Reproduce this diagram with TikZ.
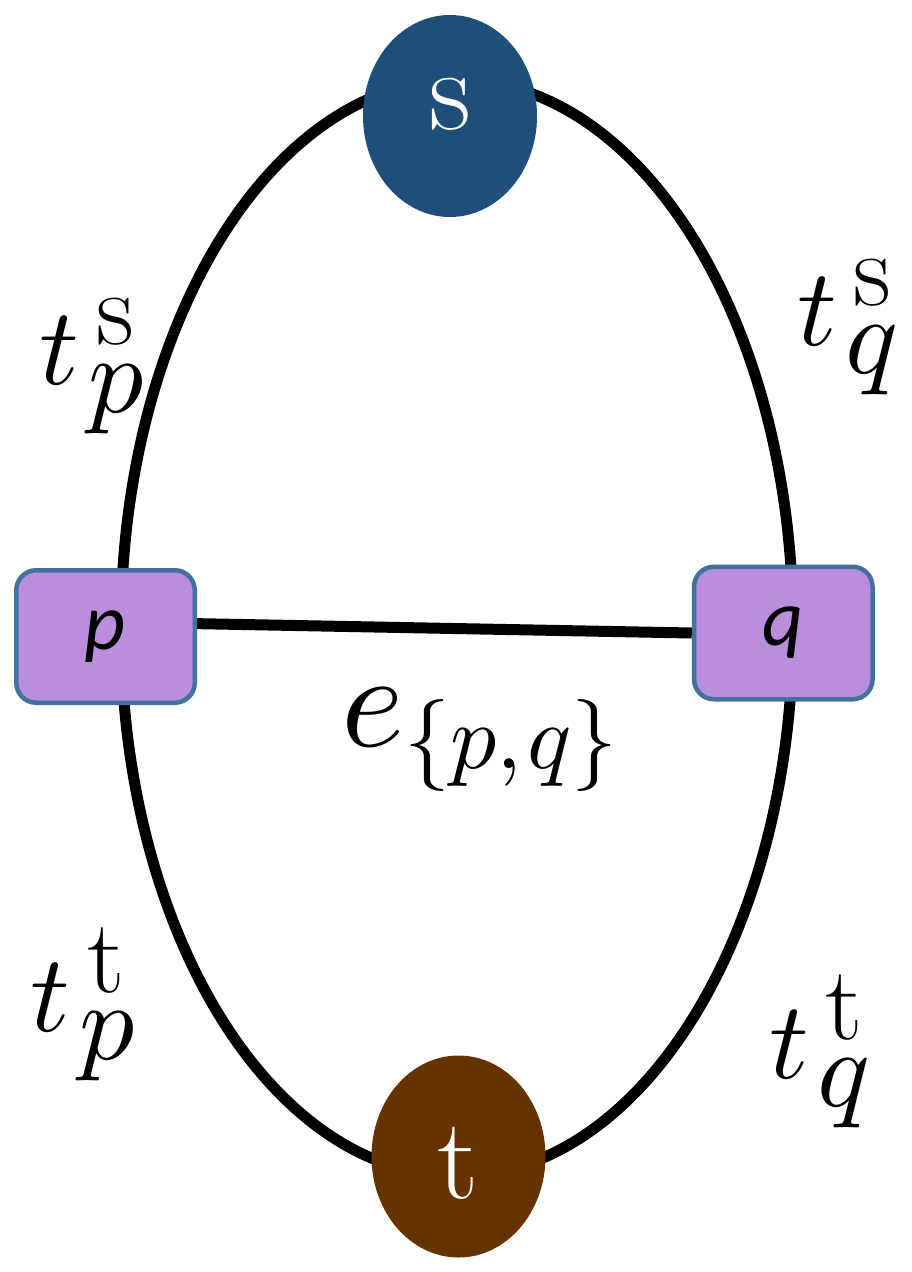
\documentclass[tikz,border=0pt]{standalone}
\usepackage{fontspec}
\newfontfamily\carlito{Carlito}
\DeclareFontShape{OML}{cmm}{m}{it}{<->cmmi10}{}
\DeclareFontShape{OMS}{cmsy}{m}{n}{<->cmsy10}{}
\DeclareFontShape{OT1}{cmr}{m}{n}{<->cmr10}{}
\DeclareFontShape{OMX}{cmex}{m}{n}{<->cmex10}{}
\usetikzlibrary{shapes.geometric}
\pgfdeclarelayer{bg}
\pgfsetlayers{bg,main}
\definecolor{sblue}{HTML}{1F4E79}
\definecolor{tbrown}{HTML}{663300}
\definecolor{vfill}{HTML}{B98EDB}
\definecolor{vborder}{HTML}{41719C}
\newcommand{\up}[1]{\mbox{\rmfamily\fontsize{105}{105}\selectfont #1}}
\begin{document}
\begin{tikzpicture}[x=1pt,y=-1pt,
  term/.style={ellipse,minimum width=174pt,minimum height=202pt,inner sep=0pt,
    text=white,font=\rmfamily\fontsize{116}{116}\selectfont},
  pix/.style={rectangle,rounded corners=20pt,draw=vborder,line width=4.5pt,fill=vfill,
    minimum width=178.5pt,minimum height=132.5pt,inner sep=0pt,
    font=\carlito\itshape\fontsize{80}{80}\selectfont},
  edgeline/.style={line width=11pt,draw=black},
  lbl/.style={inner sep=0pt,font=\rmfamily\fontsize{110}{110}\selectfont}]
\useasboundingbox (0,0) rectangle (911,1272);

\node[term,fill=sblue,text height=50pt,text depth=24pt] (s) at (450,116) {s};
\node[term,fill=tbrown,text height=84pt,text depth=0pt] (t) at (458.5,1156.5) {t};
\node[pix] (p) at (105.5,636.5) {p};
\node[pix] (q) at (783.3,633) {q};

\begin{pgfonlayer}{bg}
\coordinate (c) at (457,628);
\draw[edgeline] (c) ellipse [x radius=336, y radius=548];
\draw[edgeline] (p.8) -- (q.180);
\end{pgfonlayer}

\node[lbl] (tps) at (92,366) {$t^{\mkern4mu\up{s}}_{\mkern2mu\textstyle p}$};
\node[lbl] (tqs) at (848,327) {$t^{\mkern4mu\up{s}}_{\mkern2mu\textstyle q}$};
\node[lbl] (tpt) at (83,1004) {$t^{\mkern4mu\up{t}}_{\mkern2mu\textstyle p}$};
\node[lbl] (tqt) at (820,1051) {$t^{\mkern4mu\up{t}}_{\mkern2mu\textstyle q}$};
\node[lbl] (epq) at (480,740) {\fontsize{135}{135}\selectfont$e_{\mbox{\fontsize{92}{92}\selectfont$\{p,\mkern-2mu q\}$}}$};
\end{tikzpicture}
\end{document}
